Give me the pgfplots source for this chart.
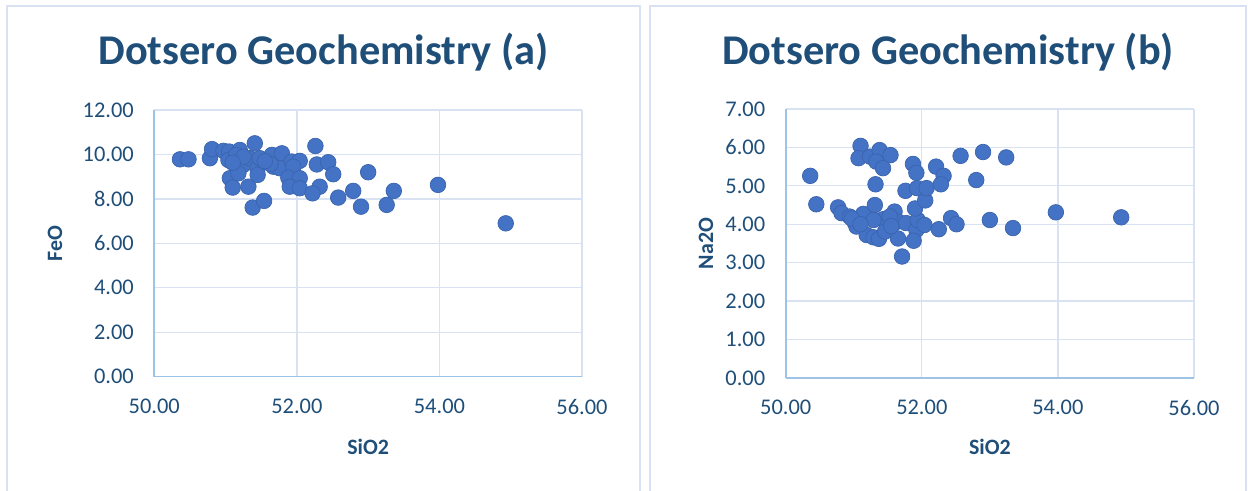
\documentclass[border=0pt]{standalone}
\usepackage{pgfplots}
\pgfplotsset{compat=1.18}
\usepackage{fontspec}
\setmainfont{Carlito}
\definecolor{txt}{HTML}{1F4E79}
\definecolor{gridc}{HTML}{D9E2F3}
\definecolor{axc}{HTML}{9DC3E6}
\definecolor{mk}{HTML}{4472C4}
\definecolor{mkd}{HTML}{3A64AE}
\definecolor{framec}{HTML}{D9E2F3}

\pgfplotstableread{
x y
50.36 9.78
50.48 9.78
50.78 9.83
50.81 10.24
50.97 10.16
51.05 10.13
51.20 10.20
51.41 10.50
51.04 9.75
51.06 8.93
51.10 8.51
51.32 8.55
51.25 9.53
51.34 9.83
51.45 9.38
51.45 9.08
51.38 7.61
51.54 7.91
51.48 9.83
51.65 9.98
51.79 10.05
51.67 9.45
51.76 9.38
51.93 9.68
52.04 9.71
51.95 9.45
51.88 8.96
52.04 8.93
51.90 8.55
52.04 8.48
52.26 10.38
52.28 9.55
52.44 9.65
52.51 9.11
52.32 8.55
52.22 8.25
52.58 8.06
52.79 8.36
53.00 9.20
52.90 7.65
53.36 8.36
53.26 7.73
53.98 8.63
54.93 6.90
51.18 9.15
51.15 9.98
51.25 9.90
51.63 9.58
51.10 9.63
51.55 9.70
}\feodata

\pgfplotstableread{
x y
50.36 5.26
50.45 4.52
50.77 4.44
50.82 4.29
50.94 4.20
51.02 4.03
51.14 4.27
51.04 3.94
50.97 4.15
51.19 3.72
51.29 3.66
51.37 3.62
51.31 4.50
51.43 4.13
51.46 3.81
51.60 4.33
51.65 4.07
51.29 4.11
51.53 4.20
51.65 3.63
51.71 3.16
51.77 4.03
51.92 3.85
51.94 4.11
52.04 3.98
51.90 4.41
52.05 4.62
51.88 3.57
52.25 3.87
52.43 4.16
52.51 4.00
53.00 4.11
53.34 3.90
53.97 4.31
54.93 4.18
51.10 6.04
51.07 5.72
51.24 5.76
51.38 5.93
51.33 5.63
51.54 5.80
51.43 5.46
51.32 5.04
51.87 5.57
51.92 5.34
51.76 4.87
51.93 4.94
52.07 4.94
52.21 5.50
52.32 5.26
52.28 5.04
52.57 5.78
52.90 5.88
53.24 5.74
52.80 5.15
51.10 4.00
51.55 3.95
}\nadata

\pgfplotsset{
 dstyle/.style={
  scale only axis,
  xmin=50, xmax=56, xtick={50,52,54,56},
  ymin=0,
  axis x line*=bottom, axis y line*=left,
  axis line style={axc, line width=1.6bp, -},
  grid=major, grid style={gridc, line width=1.3bp},
  major tick length=0pt,
  tick label style={font=\fontsize{22.5}{27}\selectfont, text=txt},
  yticklabel style={xshift=-17bp},
  xticklabel style={yshift=-19bp},
  /pgf/number format/.cd, fixed, fixed zerofill, precision=2, 1000 sep={}, assume math mode=true, /pgfplots/.cd,
  label style={font=\bfseries\fontsize{22}{26}\selectfont, text=txt},
  clip=false,
 },
 dmark/.style={only marks, mark=*, mark size=7.8bp, mark options={fill=mk, draw=mkd, line width=0.7bp}},
}

\begin{document}
\begin{tikzpicture}
\path[use as bounding box] (0,0) rectangle (1248bp,491bp);
\draw[framec, line width=1.6bp] (7bp,-5bp) -- (7bp,485bp) -- (640bp,485bp) -- (640bp,-5bp);
\draw[framec, line width=1.6bp] (650bp,-5bp) -- (650bp,485bp) -- (1246bp,485bp) -- (1246bp,-5bp);

\node[font=\bfseries\fontsize{42.5}{50}\selectfont, text=txt] at (323.5bp,439bp) {Dotsero Geochemistry (a)};
\node[font=\bfseries\fontsize{42.5}{50}\selectfont, text=txt] at (948bp,439bp) {Dotsero Geochemistry (b)};

\begin{axis}[dstyle, at={(154.3bp,114.3bp)}, anchor=south west,
  width=427.7bp, height=266.7bp,
  ymax=12, ytick={0,2,4,6,8,10,12},
  xlabel={SiO2}, ylabel={FeO},
  xlabel style={at={(axis description cs:0.5,-0.264)}, anchor=center},
  ylabel style={at={(axis description cs:-0.232,0.5)}, anchor=center},
]
\addplot[dmark] table[x=x,y=y] {\feodata};
\end{axis}

\begin{axis}[dstyle, at={(785.7bp,113.1bp)}, anchor=south west,
  width=408.3bp, height=268.9bp,
  ymax=7, ytick={0,1,2,3,4,5,6,7},
  xlabel={SiO2}, ylabel={Na2O},
  xlabel style={at={(axis description cs:0.5,-0.257)}, anchor=center},
  ylabel style={at={(axis description cs:-0.195,0.5)}, anchor=center},
]
\addplot[dmark] table[x=x,y=y] {\nadata};
\end{axis}
\end{tikzpicture}
\end{document}
